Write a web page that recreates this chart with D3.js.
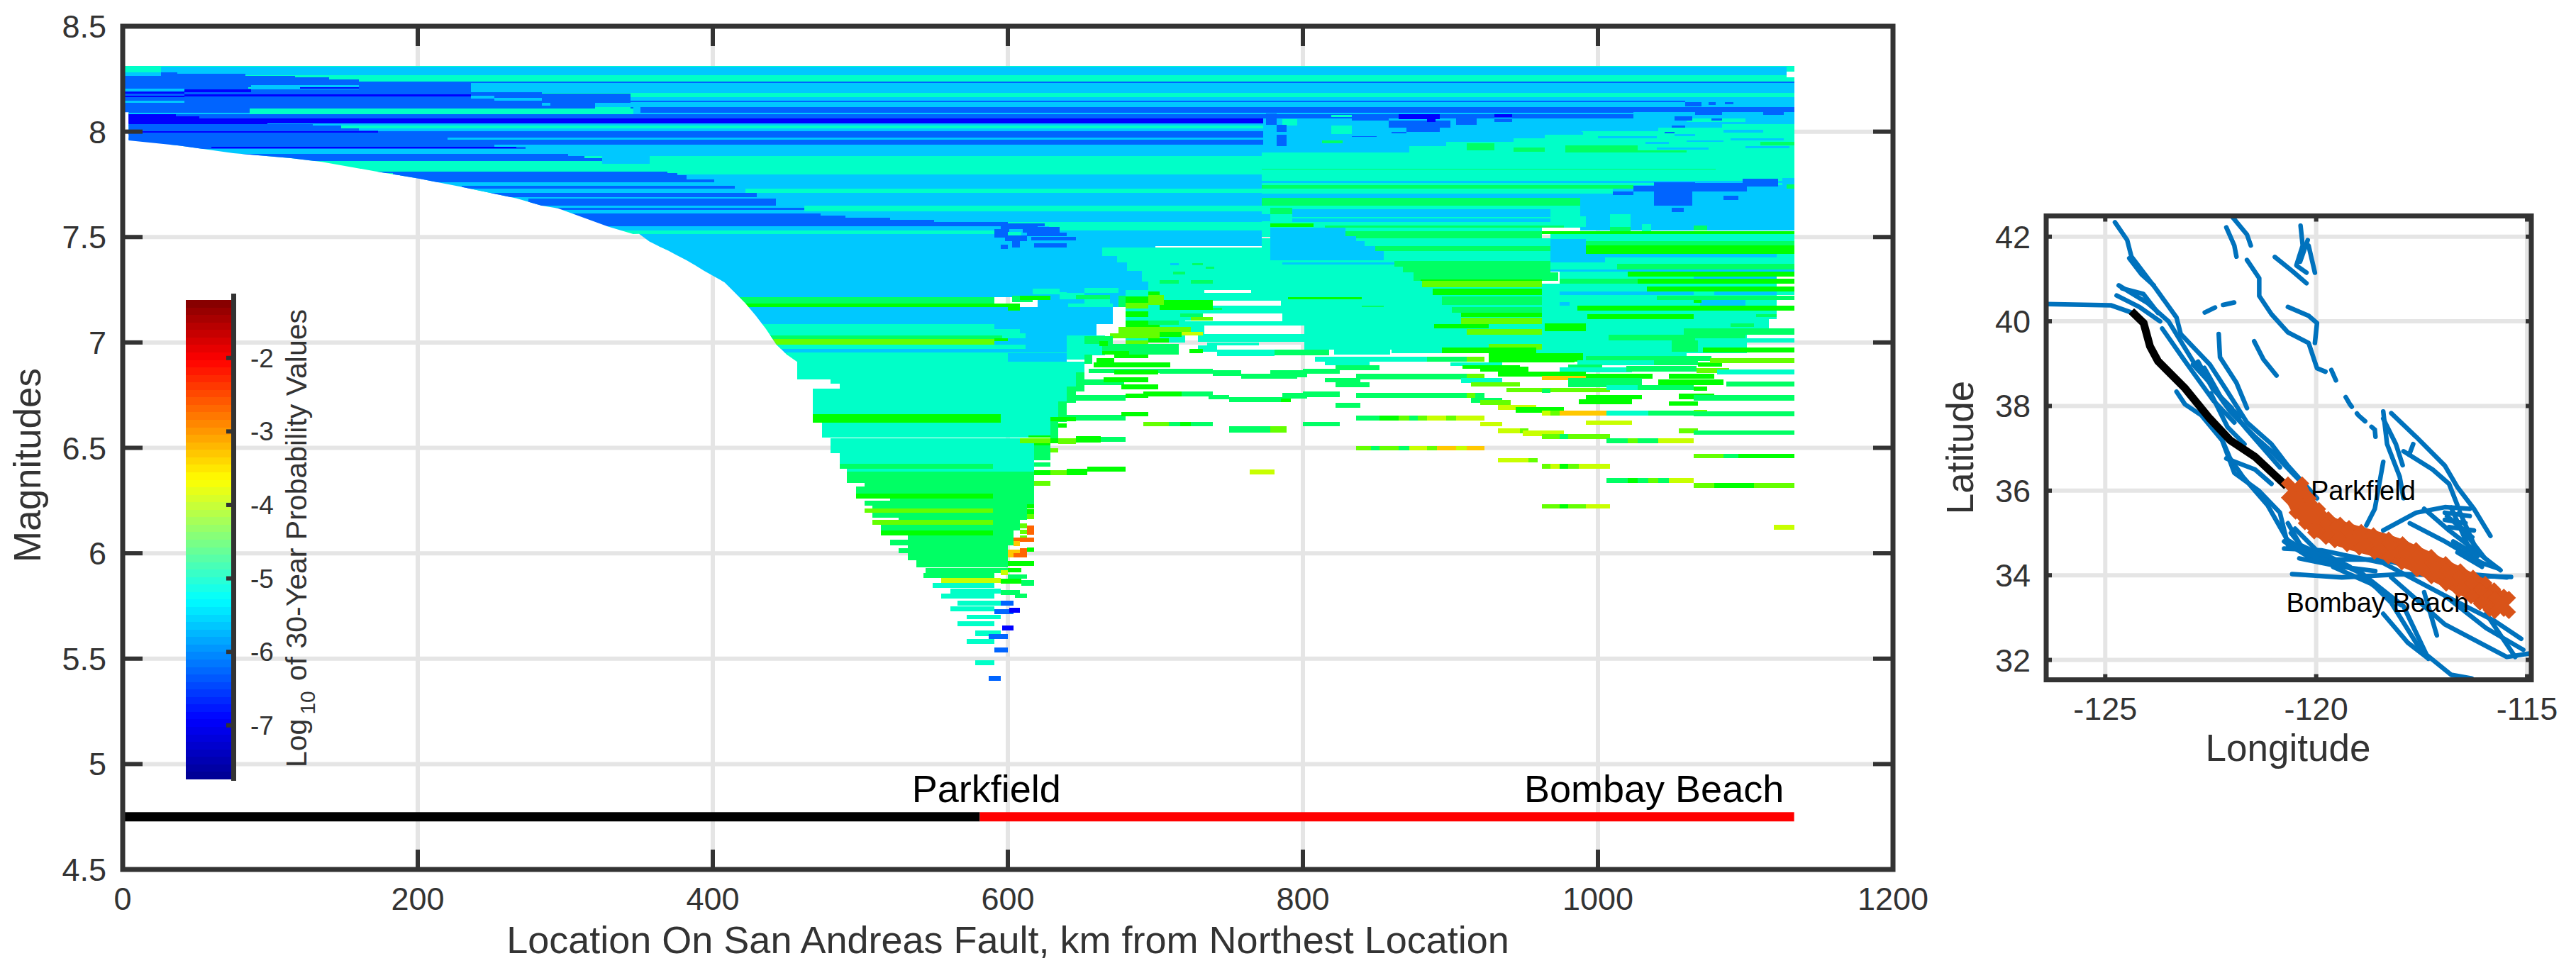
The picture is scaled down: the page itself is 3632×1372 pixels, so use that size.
<!DOCTYPE html>
<html>
<head>
<meta charset="utf-8">
<script src="https://cdn.jsdelivr.net/npm/d3@7"></script>
<style>
	html, body { margin: 0; padding: 0; background: #fff; }
	text { font-family: "Liberation Sans", sans-serif; fill: #333; }
</style>
</head>
<body>
<div id="chart"></div>
<script>
// runs are [mag top, mag bottom, km start, km end, log10 p], painted in order

var xTicks = [0, 200, 400, 600, 800, 1000, 1200],
	yTicks = [4.5, 5, 5.5, 6, 6.5, 7, 7.5, 8, 8.5],
	barTicks = [-7, -6, -5, -4, -3, -2],
	lonTicks = [-125, -120, -115],
	latTicks = [32, 34, 36, 38, 40, 42];

// lower left limit of the filled area
var edgeKm = [4, 37, 75, 114, 135, 171, 200, 229, 248, 267, 284, 295, 329, 346, 350, 357, 363, 369, 375, 382, 388, 394, 408, 415, 422, 429, 436, 443, 450, 457],
	edgeMag = [7.958, 7.935, 7.898, 7.874, 7.857, 7.812, 7.778, 7.739, 7.711, 7.683, 7.649, 7.636, 7.55, 7.514, 7.515, 7.479, 7.458, 7.439, 7.416, 7.391, 7.366, 7.34, 7.285, 7.236, 7.186, 7.128, 7.064, 6.991, 6.943, 6.909];

var topBands = [
	[8.313, 8.307, 0, 1128, -5], [8.307, 8.268, 0, 1128, -5.6], [8.268, 8.237, 0, 1128, -5],
	[8.313, 8.286, 1128, 1133, -5], [8.257, 8.237, 1128, 1133, -5],
	[8.237, 8.232, 0, 1133, -6.3], [8.232, 8.185, 0, 1133, -5.6], [8.185, 8.165, 0, 1133, -5],
	[8.165, 8.148, 0, 1133, -5.6], [8.148, 8.14, 0, 1059, -6.3], [8.148, 8.14, 1059, 1133, -5.6],
	[8.14, 8.115, 0, 1133, -5.6], [8.115, 8.062, 0, 1133, -6.3], [8.09, 8.083, 0, 1133, -5.6],
	[8.062, 8.04, 0, 1133, -7], [8.04, 8.028, 0, 1133, -5.6], [8.028, 8.014, 0, 1133, -5],
	[8.014, 8.002, 0, 1133, -5.6], [8.002, 7.972, 0, 1133, -6.3], [7.972, 7.961, 0, 1133, -5.6],
	[7.961, 7.939, 0, 1133, -6.3], [7.939, 7.885, 0, 1133, -5.6], [7.885, 7.798, 0, 1133, -5],
	[7.798, 7.728, 0, 1133, -5.6], [7.728, 7.711, 0, 1133, -5], [7.711, 7.649, 0, 1133, -5.6]
];

// blue area on the north west end
var westRuns = [
	[8.313, 8.283, 0, 26, -5], [8.283, 8.266, 0, 26, -5.6],
	[8.283, 8.275, 26, 37, -6.3], [8.275, 8.266, 26, 83, -6.3], [8.266, 8.257, 0, 117, -6.3],
	[8.257, 8.249, 0, 140, -6.3], [8.249, 8.238, 0, 160, -6.3], [8.238, 8.148, 0, 236, -6.3],
	[8.187, 8.154, 236, 284, -6.3], [8.182, 8.092, 284, 344, -6.3], [8.154, 8.092, 0, 284, -6.3],
	[8.204, 8.193, 0, 42, -5.6], [8.146, 8.137, 0, 42, -5.6], [8.187, 8.182, 0, 42, -7],
	[8.171, 8.165, 0, 42, -7], [8.202, 8.188, 42, 87, -7], [8.176, 8.168, 42, 236, -7],
	[8.21, 8.205, 85, 115, -5], [8.221, 8.2, 87, 160, -5.6], [8.212, 8.204, 120, 160, -7],
	[8.171, 8.158, 236, 252, -5.6], [8.161, 8.148, 252, 284, -5.6], [8.137, 8.124, 284, 290, -5.6],
	[8.137, 8.115, 320, 344, -5.6], [8.115, 8.1, 320, 344, -5],
	[8.109, 8.083, 86, 346, -5], [8.14, 8.083, 346, 351, -5.6],
	[8.083, 8.062, 4, 114, -6.3], [8.062, 8.035, 4, 98, -7], [8.083, 8.062, 4, 36, -7],
	[8.072, 8.035, 36, 52, -7], [8.035, 8.028, 4, 129, -6.3], [8.028, 8.024, 4, 129, -7],
	[8.028, 8.015, 4, 148, -6.3], [8.015, 8.006, 4, 160, -6.3], [8.006, 7.995, 4, 173, -6.3],
	[8.002, 7.997, 4, 173, -7], [7.995, 7.986, 4, 192, -6.3],
	[7.972, 7.961, 4, 220, -6.3], [7.939, 7.927, 4, 252, -6.3], [7.927, 7.918, 4, 273, -6.3],
	[7.927, 7.921, 60, 267, -7], [7.918, 7.894, 4, 52, -6.3],
	[7.894, 7.883, 52, 302, -6.3], [7.883, 7.874, 52, 313, -6.3], [7.874, 7.862, 52, 325, -6.3],
	[7.885, 7.846, 325, 357, -5.6],
	[7.81, 7.803, 170, 369, -6.3], [7.803, 7.793, 183, 376, -6.3], [7.793, 7.775, 188, 382, -6.3],
	[7.775, 7.761, 196, 401, -6.3], [7.742, 7.728, 230, 415, -6.3], [7.728, 7.711, 230, 422, -5.6],
	[7.711, 7.689, 248, 430, -6.3], [7.681, 7.649, 275, 443, -6.3]
];

// km 284 to 772
var centralRuns = [
	[7.649, 7.638, 284, 462, -5.6], [7.638, 7.627, 284, 462, -6.3], [7.627, 7.612, 284, 462, -5.6],
	[7.649, 7.621, 462, 772, -5], [7.621, 7.573, 462, 772, -5.6], [7.573, 7.55, 462, 772, -5],
	[7.612, 7.55, 284, 473, -6.3], [7.601, 7.55, 473, 490, -6.3], [7.593, 7.55, 490, 520, -6.3],
	[7.583, 7.55, 520, 550, -6.3], [7.573, 7.55, 550, 600, -6.3], [7.565, 7.55, 600, 625, -6.3],
	[7.55, 7.531, 284, 772, -5.6], [7.531, 7.514, 284, 592, -5], [7.514, 7.456, 284, 592, -5.6],
	[7.55, 7.506, 628, 772, -5], [7.531, 7.456, 592, 772, -5.6],
	[7.456, 7.436, 284, 592, -5], [7.456, 7.214, 284, 700, -5.6],
	[7.449, 7.41, 664, 772, -5], [7.41, 7.38, 674, 772, -5], [7.38, 7.34, 681, 772, -5],
	[7.34, 7.29, 691, 772, -5], [7.29, 7.25, 695, 772, -5],
	[7.214, 7.186, 284, 591, -4.5], [7.186, 7.167, 284, 608, -4.2],
	[7.167, 7.088, 284, 671, -5.6], [7.214, 7.167, 620, 680, -5.6],
	[7.088, 7.064, 284, 591, -5], [7.088, 7.032, 591, 660, -5.6], [7.064, 7.032, 284, 608, -5],
	[7.032, 6.95, 284, 640, -5.6], [7.032, 7.016, 284, 596, -4.5], [7.016, 6.991, 284, 591, -3.9],
	[6.991, 6.97, 284, 612, -5], [6.954, 6.94, 284, 640, -5], [7.032, 6.94, 640, 666, -5],
	[7.042, 7.02, 596, 612, -5], [7.02, 7.005, 591, 600, -4.2]
];

// dark patch round km 600, mag 7.5
var patchRuns = [
	[7.56, 7.537, 595, 620, -6.3], [7.548, 7.52, 610, 635, -6.3], [7.52, 7.503, 613, 640, -6.3],
	[7.5, 7.483, 616, 646, -6.3], [7.537, 7.498, 591, 601, -6.3], [7.509, 7.481, 598, 613, -6.3],
	[7.481, 7.449, 603, 608, -6.3], [7.464, 7.442, 595, 600, -6.3], [7.47, 7.449, 618, 640, -6.3],
	[7.525, 7.509, 600, 609, -5],
	[7.378, 7.366, 710, 716, -5.6], [7.378, 7.366, 725, 732, -4.5], [7.335, 7.323, 712, 720, -4.5]
];

// the arch and the blocks from km 600 to 740
var archRuns = [
	[7.254, 7.229, 617, 635, -5], [7.237, 7.206, 635, 640, -5], [7.257, 7.234, 652, 675, -5],
	[7.234, 7.206, 640, 652, -5], [7.225, 7.206, 646, 669, -4.5], [7.206, 7.184, 652, 669, -5],
	[7.184, 7.169, 641, 671, -5], [7.223, 7.19, 603, 617, -4.5], [7.223, 7.2, 608, 629, -4.2],
	[7.173, 7.15, 600, 608, -4.2], [7.222, 7.167, 675, 680, -4.5],
	[7.25, 7.0, 680, 720, -5],
	[7.296, 7.279, 703, 716, -4.5], [7.296, 7.279, 724, 739, -4.5],
	[7.217, 7.189, 680, 703, -4.2], [7.243, 7.217, 695, 703, -4.2], [7.2, 7.156, 703, 739, -4.2],
	[7.189, 7.161, 680, 695, -3.9], [7.225, 7.178, 695, 706, -3.9], [7.147, 7.122, 680, 695, -4.2],
	[7.105, 7.066, 680, 703, -4.2], [7.139, 7.105, 713, 725, -5], [7.139, 7.122, 717, 732, -4.5],
	[7.122, 7.105, 724, 739, -3.9], [7.105, 7.085, 695, 716, -4.5],
	[7.072, 7.044, 675, 724, -3.9], [7.049, 7.032, 718, 732, -3.6], [7.049, 7.027, 703, 718, -4.2],
	[7.044, 7.021, 669, 703, -3.9], [7.01, 6.991, 680, 695, -3.9], [7.019, 6.999, 695, 709, -4.2],
	[6.993, 6.943, 664, 716, -4.5], [6.958, 6.943, 664, 682, -4.2], [6.97, 6.948, 723, 732, -4.2],
	[7.03, 6.993, 652, 671, -4.5], [7.006, 6.984, 662, 668, -4.2]
];

// the sea green area east of km 695, with its gaps
var ridgeRuns = [
	[7.25, 7.236, 695, 733, -5], [7.25, 7.236, 765, 885, -5],
	[7.236, 7.199, 700, 885, -5], [7.199, 7.176, 709, 739, -5], [7.199, 7.176, 785, 885, -5],
	[7.176, 7.139, 709, 885, -5], [7.139, 7.101, 786, 880, -5], [7.101, 7.079, 720, 880, -5],
	[7.079, 7.04, 717, 733, -5], [7.079, 7.04, 801, 873, -5], [7.04, 7.004, 729, 865, -5],
	[7.004, 6.966, 801, 861, -5], [6.966, 6.944, 821, 859, -5],
	[6.985, 6.955, 729, 742, -5], [6.965, 6.935, 742, 781, -5], [6.965, 6.94, 781, 818, -4.5],
	[7.166, 7.156, 735, 745, -4.5], [7.0, 6.985, 735, 770, -5],
	[7.25, 7.0, 850, 975, -5], [7.0, 6.95, 860, 975, -5]
];

// km 772 to 1133, upper part
var eastUpperRuns = [
	[8.062, 7.9, 773, 1133, -5.6], [7.93, 7.9, 872, 1133, -5], [7.952, 7.93, 897, 1133, -5],
	[7.969, 7.952, 943, 1133, -5], [7.986, 7.969, 964, 1133, -5], [8.002, 7.986, 989, 1133, -5],
	[8.019, 8.002, 1041, 1133, -5], [8.036, 8.019, 1084, 1133, -5],
	[8.092, 8.062, 1024, 1133, -5.6], [8.062, 8.045, 1060, 1100, -5],
	[8.081, 8.07, 819, 833, -5], [8.059, 8.028, 786, 796, -5], [8.028, 7.99, 819, 833, -5],
	[8.0, 7.986, 945, 990, -5.6], [7.98, 7.97, 1000, 1040, -5.6], [7.99, 7.98, 1052, 1066, -5.6],
	[8.01, 7.995, 1085, 1112, -5.6], [7.97, 7.958, 1090, 1126, -5.6], [7.95, 7.94, 1032, 1048, -5.6],
	[7.96, 7.95, 1060, 1085, -5.6], [7.93, 7.92, 1100, 1130, -5.6], [7.925, 7.915, 1040, 1075, -5.6],
	[7.946, 7.91, 911, 930, -4.5], [7.924, 7.905, 943, 964, -4.5], [7.935, 7.9, 978, 1027, -4.5],
	[7.91, 7.9, 1027, 1060, -4.5], [7.958, 7.946, 813, 827, -4.5], [7.95, 7.935, 1110, 1133, -4.5],
	[8.087, 8.031, 775, 782, -6.3], [8.031, 8.0, 782, 789, -6.3], [7.985, 7.93, 782, 789, -6.3],
	[8.007, 7.999, 796, 810, -5.6], [7.988, 7.98, 800, 815, -5.6],
	[8.07, 8.053, 833, 858, -6.3], [8.053, 8.019, 858, 900, -6.3], [8.084, 8.059, 865, 893, -7],
	[8.059, 8.045, 884, 890, -7], [8.084, 8.031, 904, 918, -6.3], [8.084, 8.07, 930, 942, -7],
	[8.059, 8.047, 930, 942, -6.3], [8.02, 8.0, 870, 893, -6.3], [7.999, 7.991, 860, 870, -6.3],
	[7.98, 7.974, 833, 850, -6.3],
	[8.073, 8.053, 1052, 1064, -6.3], [8.03, 8.02, 1050, 1059, -6.3], [8.062, 8.053, 1077, 1084, -6.3],
	[7.999, 7.991, 1045, 1052, -6.3], [8.092, 8.081, 1112, 1126, -6.3], [8.092, 8.081, 1066, 1084, -6.3],
	[8.14, 8.12, 1059, 1070, -6.3], [8.14, 8.125, 1075, 1080, -6.3], [8.14, 8.13, 1086, 1092, -6.3],
	[7.9, 7.767, 772, 1133, -5], [7.825, 7.821, 772, 1080, -4.5],
	[7.767, 7.756, 772, 1133, -5.6], [7.756, 7.745, 772, 1133, -5], [7.745, 7.731, 772, 1024, -4.5],
	[7.731, 7.705, 772, 1010, -5], [7.705, 7.685, 772, 1133, -5.6], [7.685, 7.649, 772, 988, -4.5],
	[7.685, 7.53, 988, 1133, -5.6], [7.731, 7.705, 1010, 1133, -5.6], [7.745, 7.731, 1024, 1133, -5.6],
	[7.717, 7.7, 1010, 1024, -6.3], [7.742, 7.717, 1024, 1038, -6.3], [7.761, 7.728, 1038, 1066, -6.3],
	[7.728, 7.649, 1038, 1064, -6.3], [7.756, 7.717, 1064, 1101, -6.3], [7.778, 7.739, 1098, 1122, -6.3],
	[7.695, 7.675, 1085, 1095, -6.3], [7.64, 7.627, 1050, 1058, -6.3],
	[7.78, 7.745, 1125, 1133, -5.6], [7.75, 7.73, 1128, 1133, -4.5]
];

// km 772 to 968, mag 7.65 to 6.95
var eastMiddleRuns = [
	[7.649, 7.544, 772, 988, -5], [7.494, 7.25, 772, 900, -5], [7.64, 7.61, 778, 793, -4.5], [7.565, 7.547, 778, 807, -4.2],
	[7.632, 7.595, 793, 968, -5.6], [7.595, 7.587, 793, 968, -5], [7.587, 7.573, 793, 968, -5.6],
	[7.573, 7.554, 807, 968, -5], [7.554, 7.543, 815, 977, -4.5], [7.543, 7.528, 815, 962, -5],
	[7.61, 7.575, 772, 778, -5.6], [7.544, 7.5, 772, 778, -5],
	[7.528, 7.494, 829, 962, -4.5], [7.494, 7.481, 829, 968, -5], [7.481, 7.456, 836, 968, -5],
	[7.456, 7.434, 842, 968, -4.5], [7.434, 7.41, 849, 968, -5], [7.41, 7.386, 855, 968, -5],
	[7.386, 7.36, 862, 968, -4.5], [7.36, 7.333, 868, 968, -4.5], [7.333, 7.293, 875, 973, -4.5],
	[7.3, 7.293, 880, 962, -4.2], [7.293, 7.262, 881, 962, -3.9], [7.262, 7.254, 885, 962, -5],
	[7.254, 7.225, 888, 962, -4.2], [7.225, 7.217, 892, 962, -5], [7.217, 7.178, 894, 962, -4.5],
	[7.178, 7.169, 897, 962, -5], [7.169, 7.142, 901, 962, -4.5], [7.142, 7.122, 907, 962, -4.2],
	[7.117, 7.088, 907, 963, -3.9], [7.088, 7.066, 889, 926, -4.2], [7.088, 7.064, 926, 990, -5],
	[7.064, 7.038, 911, 962, -3.9], [7.038, 7.012, 895, 960, -5],
	[6.993, 6.965, 926, 979, -3.9], [6.976, 6.948, 894, 958, -4.2],
	[7.544, 7.503, 778, 829, -5.6], [7.503, 7.481, 778, 836, -5.6], [7.481, 7.456, 778, 842, -5.6],
	[7.456, 7.434, 778, 849, -5.6], [7.434, 7.39, 778, 855, -5.6],
	[7.38, 7.37, 786, 862, -5.6], [7.39, 7.38, 786, 860, -5],
	[7.36, 7.35, 734, 740, -4.5], [7.215, 7.205, 790, 840, -4.2], [7.176, 7.168, 840, 855, -4.5]
];

// km 968 to 1133, mag 7.53 to 6.95
var eastEndRuns = [
	[7.25, 7.109, 962, 1121, -5], [7.109, 7.066, 962, 1116, -5], [7.066, 6.95, 962, 1101, -5],
	[7.61, 7.548, 1008, 1022, -5], [7.6, 7.548, 977, 992, -5], [7.548, 7.528, 1008, 1022, -4.5],
	[7.56, 7.528, 1030, 1036, -5], [7.553, 7.532, 1065, 1074, -4.5], [7.633, 7.62, 1050, 1058, -6.3],
	[7.528, 7.514, 962, 1133, -4.2], [7.514, 7.481, 968, 1133, -5], [7.481, 7.461, 980, 1133, -4.5],
	[7.461, 7.419, 992, 1133, -4.2], [7.49, 7.38, 968, 992, -5.6], [7.42, 7.38, 992, 1005, -5.6],
	[7.419, 7.402, 993, 1121, -5.6], [7.419, 7.402, 1121, 1133, -5],
	[7.402, 7.374, 1005, 1133, -5], [7.374, 7.346, 1013, 1133, -4.5], [7.38, 7.346, 968, 1013, -5],
	[7.346, 7.335, 968, 1133, -5.6], [7.335, 7.312, 974, 1020, -5], [7.335, 7.312, 1020, 1133, -4.2],
	[7.312, 7.304, 974, 1065, -5], [7.312, 7.304, 1065, 1121, -5.6], [7.304, 7.279, 974, 1027, -4.5],
	[7.304, 7.279, 1027, 1133, -4.2], [7.279, 7.265, 962, 1065, -5], [7.279, 7.265, 1065, 1121, -5],
	[7.265, 7.243, 962, 1033, -5], [7.265, 7.243, 1033, 1133, -4.2],
	[7.243, 7.225, 974, 1065, -5.6], [7.243, 7.225, 1079, 1121, -5.6], [7.243, 7.225, 1065, 1079, -5],
	[7.243, 7.225, 1121, 1133, -5],
	[7.225, 7.2, 974, 1040, -5], [7.223, 7.2, 1040, 1133, -4.5],
	[7.2, 7.176, 974, 1069, -5], [7.2, 7.176, 1069, 1100, -5.6], [7.2, 7.176, 1100, 1121, -5],
	[7.193, 7.176, 974, 981, -5.6], [7.2, 7.188, 1065, 1070, -4.2],
	[7.176, 7.152, 986, 1133, -4.2], [7.152, 7.133, 962, 1106, -5],
	[7.133, 7.109, 962, 993, -5], [7.133, 7.109, 993, 1065, -4.2], [7.133, 7.109, 1065, 1107, -5],
	[7.135, 7.12, 1107, 1121, -4.5], [7.12, 7.109, 1107, 1116, -5],
	[7.109, 7.083, 962, 1116, -5], [7.083, 7.066, 975, 1106, -5], [7.09, 7.072, 1090, 1106, -4.5],
	[7.066, 7.038, 978, 1058, -5], [7.066, 7.038, 1058, 1133, -4.5], [7.09, 7.052, 964, 992, -4.2],
	[7.038, 7.01, 962, 1007, -5], [7.038, 7.01, 1007, 1084, -4.5], [7.038, 7.01, 1084, 1101, -5],
	[7.05, 7.012, 1084, 1100, -4.5], [7.021, 6.999, 1066, 1133, -5],
	[7.01, 6.976, 986, 1050, -5], [7.01, 6.976, 1050, 1068, -4.5], [7.0, 6.976, 1068, 1096, -5],
	[6.976, 6.954, 974, 1071, -5], [6.976, 6.954, 1071, 1133, -4.2], [6.99, 6.955, 1050, 1068, -4.5]
];

// wedge that narrows down to Parkfield
var wedgeRuns = [
	[6.95, 6.909, 450, 640, -5], [6.95, 6.905, 600, 640, -5.6], [6.95, 6.92, 640, 652, -5],
	[6.909, 6.823, 457, 652, -5], [6.823, 6.806, 480, 646, -5], [6.806, 6.78, 486, 646, -5],
	[6.78, 6.66, 468, 640, -5], [6.66, 6.621, 468, 595, -4.2], [6.66, 6.621, 595, 634, -5],
	[6.621, 6.548, 474, 634, -5], [6.545, 6.474, 480, 618, -5], [6.474, 6.425, 486, 618, -5],
	[6.425, 6.402, 486, 590, -4.5], [6.425, 6.402, 590, 618, -5], [6.402, 6.388, 491, 618, -5],
	[6.388, 6.332, 491, 618, -4.5], [6.332, 6.315, 503, 618, -4.5], [6.315, 6.282, 497, 618, -4.5],
	[6.282, 6.259, 497, 590, -4.2], [6.282, 6.259, 590, 618, -4.5], [6.259, 6.248, 520, 618, -4.5],
	[6.248, 6.226, 503, 618, -4.5], [6.226, 6.214, 508, 618, -4.5],
	[6.214, 6.192, 503, 590, -3.9], [6.214, 6.192, 590, 613, -4.5], [6.192, 6.17, 508, 613, -4.5],
	[6.17, 6.158, 526, 613, -4.5], [6.158, 6.136, 508, 590, -3.9], [6.158, 6.136, 590, 608, -4.5],
	[6.136, 6.108, 514, 608, -4.5], [6.108, 6.083, 514, 590, -4.2], [6.108, 6.083, 590, 604, -4.5],
	[6.083, 6.063, 532, 604, -4.5], [6.063, 6.038, 520, 604, -4.5], [6.038, 6.024, 532, 600, -4.5],
	[6.024, 6.001, 526, 600, -4.5], [6.001, 5.968, 532, 600, -4.5], [5.968, 5.934, 538, 600, -4.5],
	[5.93, 5.906, 544, 600, -4.5], [5.906, 5.883, 543, 591, -4.5], [5.92, 5.896, 595, 600, -3.6],
	[5.93, 5.91, 600, 609, -4.2], [5.9, 5.88, 600, 613, -4.5], [5.88, 5.855, 595, 609, -4.2],
	[5.883, 5.858, 555, 595, -3.6], [5.871, 5.846, 609, 618, -4.5], [5.858, 5.837, 549, 591, -5],
	[5.832, 5.81, 561, 595, -5], [5.824, 5.803, 595, 608, -4.5], [5.809, 5.784, 555, 591, -5],
	[5.809, 5.787, 605, 613, -4.5], [5.775, 5.752, 566, 595, -5], [5.775, 5.753, 595, 604, -6.3],
	[5.747, 5.726, 561, 591, -5], [5.733, 5.712, 591, 604, -6.3], [5.74, 5.718, 601, 608, -7],
	[5.709, 5.687, 572, 595, -5], [5.678, 5.655, 566, 591, -5], [5.656, 5.633, 596, 604, -7],
	[5.633, 5.608, 578, 595, -5], [5.616, 5.594, 587, 600, -6.3], [5.594, 5.571, 572, 591, -5],
	[5.553, 5.531, 591, 600, -6.3], [5.491, 5.468, 578, 591, -5], [5.418, 5.395, 587, 595, -6.3],
	[6.859, 6.769, 646, 652, -4.5], [6.792, 6.713, 640, 646, -4.5], [6.719, 6.623, 634, 640, -4.5],
	[6.629, 6.545, 629, 634, -4.5], [6.512, 6.44, 618, 629, -4.5], [6.43, 6.41, 618, 629, -4.5],
	[6.545, 6.523, 608, 629, -3.9], [6.56, 6.548, 614, 629, -4.2], [6.523, 6.512, 618, 629, -4.2],
	[6.231, 6.214, 613, 618, -4.2], [6.208, 6.186, 613, 618, -4.2], [6.186, 6.162, 613, 618, -3.9],
	[6.141, 6.119, 608, 613, -3.9], [6.13, 6.089, 613, 618, -2.5], [6.112, 6.09, 608, 613, -3.9],
	[6.085, 6.065, 608, 613, -3.9], [6.076, 6.054, 604, 618, -2.5], [6.057, 6.035, 604, 608, -3],
	[6.029, 6.007, 613, 618, -4.2], [6.024, 5.979, 608, 613, -2.5], [6.018, 5.981, 600, 608, -3],
	[5.999, 5.979, 604, 613, -2.5], [5.962, 5.94, 600, 618, -4.2]
];

// separate strips south of mag 6.95
var tailRuns = [
	[6.95, 6.893, 986, 1060, -5], [6.95, 6.91, 926, 990, -4.2],
	[6.943, 6.9, 652, 657, -4.5], [6.904, 6.881, 658, 710, -4.2], [6.925, 6.905, 660, 672, -4.2],
	[6.943, 6.925, 672, 695, -4.2],
	[6.876, 6.856, 655, 703, -4.5], [6.876, 6.853, 703, 739, -4.5], [6.87, 6.848, 672, 702, -4.2],
	[6.868, 6.842, 739, 758, -4.5], [6.853, 6.829, 758, 796, -4.5], [6.867, 6.836, 778, 803, -4.5],
	[6.876, 6.853, 800, 825, -4.5], [6.893, 6.87, 822, 852, -4.5],
	[6.932, 6.909, 808, 884, -5], [6.932, 6.909, 884, 911, -4.5], [6.932, 6.909, 911, 923, -3.9],
	[6.909, 6.891, 815, 845, -5],
	[6.825, 6.797, 652, 679, -4.5], [6.834, 6.811, 665, 695, -4.2], [6.8, 6.778, 677, 702, -4.2],
	[6.752, 6.724, 646, 680, -4.5], [6.758, 6.738, 680, 695, -4.2], [6.766, 6.743, 692, 718, -4.2],
	[6.766, 6.743, 718, 739, -4.5], [6.752, 6.73, 736, 750, -4.5], [6.741, 6.717, 750, 788, -4.5],
	[6.734, 6.717, 785, 792, -4.2], [6.76, 6.735, 786, 803, -4.5], [6.766, 6.741, 800, 825, -4.5],
	[6.657, 6.629, 640, 680, -4.5], [6.671, 6.649, 677, 695, -4.2], [6.647, 6.625, 629, 646, -4.2],
	[6.617, 6.596, 634, 640, -4.2], [6.623, 6.601, 692, 709, -3.9], [6.623, 6.601, 709, 717, -4.5],
	[6.623, 6.601, 717, 724, -4.2], [6.623, 6.601, 724, 739, -4.5],
	[6.601, 6.573, 750, 778, -4.5], [6.601, 6.573, 778, 789, -3.9],
	[6.545, 6.523, 629, 634, -4.2], [6.545, 6.52, 634, 646, -3.9], [6.555, 6.525, 646, 663, -4.2],
	[6.553, 6.528, 663, 680, -4.5], [6.5, 6.478, 629, 634, -3.9],
	[6.394, 6.371, 618, 629, -4.2], [6.394, 6.371, 629, 640, -3.9], [6.4, 6.371, 640, 654, -4.2],
	[6.41, 6.388, 654, 680, -4.2], [6.343, 6.321, 618, 629, -3.9],
	[6.833, 6.811, 815, 839, -4.5], [6.811, 6.788, 822, 845, -4.5], [6.713, 6.691, 822, 839, -4.5],
	[6.623, 6.601, 800, 825, -4.5],
	[6.851, 6.826, 836, 911, -4.5], [6.851, 6.826, 911, 923, -3.9],
	[6.761, 6.738, 836, 911, -4.5], [6.761, 6.738, 911, 917, -3.9], [6.761, 6.738, 917, 923, -4.5],
	[6.738, 6.715, 914, 935, -4.5], [6.727, 6.705, 920, 941, -3.9], [6.704, 6.68, 932, 958, -3.6],
	[6.693, 6.668, 944, 977, -4.2],
	[6.904, 6.889, 900, 935, -5], [6.893, 6.876, 908, 947, -4.2], [6.885, 6.862, 920, 953, -4.2],
	[6.932, 6.904, 926, 984, -4.2], [6.934, 6.912, 992, 1077, -4.5], [6.915, 6.893, 986, 1038, -5],
	[6.915, 6.893, 1038, 1068, -4.5], [6.904, 6.885, 1068, 1084, -4.2], [6.896, 6.878, 980, 1003, -4.5],
	[6.881, 6.859, 974, 1023, -5], [6.889, 6.862, 1019, 1067, -4.5], [6.878, 6.856, 1067, 1089, -3.9],
	[6.861, 6.839, 932, 992, -4.2], [6.842, 6.82, 962, 992, -3], [6.85, 6.827, 992, 1037, -4.2],
	[6.831, 6.808, 907, 935, -5], [6.811, 6.79, 914, 947, -3.9], [6.831, 6.788, 980, 1030, -4.5],
	[6.784, 6.764, 938, 1008, -3.9], [6.78, 6.76, 962, 968, -4.5], [6.752, 6.73, 992, 1030, -4.2],
	[6.73, 6.708, 987, 1023, -4.2], [6.797, 6.773, 1006, 1027, -5], [6.797, 6.773, 1027, 1065, -4.5],
	[6.792, 6.77, 1065, 1074, -4.2], [6.853, 6.829, 1048, 1079, -4.2], [6.825, 6.797, 1041, 1085, -4.2],
	[6.756, 6.732, 1055, 1079, -4.2], [6.722, 6.7, 1048, 1068, -4.2], [6.816, 6.792, 1087, 1133, -4.5],
	[6.75, 6.724, 1065, 1133, -4.5], [6.873, 6.848, 1081, 1133, -5], [6.926, 6.903, 1076, 1133, -3.9],
	[6.676, 6.654, 962, 968, -3.6], [6.676, 6.654, 968, 974, -3.9], [6.676, 6.654, 974, 1008, -3],
	[6.676, 6.654, 1006, 1034, -5], [6.676, 6.654, 1034, 1065, -4.5], [6.679, 6.657, 1065, 1074, -3.9],
	[6.674, 6.649, 1065, 1133, -4.5], [6.652, 6.628, 836, 852, -4.5], [6.652, 6.628, 852, 865, -4.2],
	[6.652, 6.628, 865, 872, -3.9], [6.652, 6.628, 872, 878, -4.5], [6.652, 6.628, 878, 884, -3.9],
	[6.652, 6.628, 884, 897, -3.6], [6.652, 6.628, 897, 904, -3.9], [6.652, 6.628, 904, 923, -3.6],
	[6.623, 6.601, 920, 935, -3.6], [6.631, 6.608, 992, 1023, -3.6],
	[6.592, 6.57, 932, 947, -3.6], [6.592, 6.57, 947, 953, -3.9], [6.581, 6.556, 949, 977, -3.6],
	[6.567, 6.543, 962, 974, -3.9], [6.567, 6.543, 974, 980, -4.5], [6.567, 6.543, 980, 1008, -3.9],
	[6.545, 6.523, 1006, 1020, -4.5], [6.545, 6.523, 1020, 1027, -3.9], [6.545, 6.523, 1027, 1041, -4.5],
	[6.545, 6.523, 1041, 1065, -3.6], [6.592, 6.57, 1055, 1068, -3.9], [6.584, 6.562, 1065, 1133, -4.5],
	[6.508, 6.487, 836, 846, -3.9], [6.508, 6.487, 846, 852, -4.5], [6.508, 6.487, 852, 865, -3.9],
	[6.508, 6.487, 865, 872, -4.5], [6.508, 6.487, 872, 884, -3.6], [6.508, 6.487, 884, 891, -3.9],
	[6.508, 6.487, 891, 904, -3], [6.508, 6.487, 904, 911, -3.6], [6.508, 6.487, 911, 923, -3],
	[6.472, 6.45, 1065, 1085, -3.9], [6.472, 6.45, 1085, 1095, -4.5], [6.472, 6.45, 1095, 1133, -4.2],
	[6.452, 6.43, 932, 953, -3.6], [6.452, 6.43, 953, 959, -3.9],
	[6.424, 6.402, 962, 968, -3.9], [6.424, 6.402, 968, 974, -3.6], [6.424, 6.402, 974, 980, -4.2],
	[6.424, 6.402, 980, 987, -3.9], [6.424, 6.402, 987, 1008, -3.6],
	[6.397, 6.375, 764, 781, -3.6],
	[6.357, 6.334, 1006, 1020, -4.5], [6.357, 6.334, 1020, 1027, -4.2], [6.357, 6.334, 1027, 1034, -4.5],
	[6.357, 6.334, 1034, 1041, -3.9], [6.357, 6.334, 1041, 1048, -4.5], [6.357, 6.334, 1048, 1065, -3.6],
	[6.332, 6.31, 1065, 1079, -3.9], [6.332, 6.31, 1079, 1106, -4.2], [6.332, 6.31, 1106, 1133, -3.9],
	[6.233, 6.211, 962, 974, -3.9], [6.233, 6.211, 974, 980, -4.2], [6.233, 6.211, 980, 992, -3.9],
	[6.233, 6.211, 992, 1008, -3.6], [6.136, 6.113, 1119, 1133, -3.6]
];

var heatRuns = [topBands, westRuns, eastUpperRuns, centralRuns, patchRuns, ridgeRuns, archRuns, eastMiddleRuns, eastEndRuns, wedgeRuns, tailRuns];

var parkfieldKm = 581, traceEndKm = 1133, traceMag = 4.75;

// fault traces as [lon, lat]
var faultTraces = [
	[[-126.44, 40.41], [-124.87, 40.38], [-124.38, 40.21]],
	[[-124.77, 42.34], [-124.48, 41.92], [-124.38, 41.53], [-124.09, 41.15], [-123.8, 40.77], [-123.31, 40.09], [-123.21, 39.7], [-122.52, 38.98], [-122.13, 38.38], [-121.64, 37.61], [-121.06, 37.1], [-120.67, 36.59], [-120.13, 35.99]],
	[[-124.68, 40.85], [-123.99, 40.43], [-123.5, 40], [-122.92, 39.06], [-122.33, 38.29], [-121.64, 37.44], [-120.86, 36.55]],
	[[-124.73, 40.61], [-124.19, 40.34], [-123.7, 40]],
	[[-123.65, 39.83], [-123.11, 39.06], [-122.43, 38.12], [-121.94, 37.61]],
	[[-124.43, 41.49], [-124.14, 41.11], [-123.85, 40.85]],
	[[-124.6, 40.78], [-124.1, 40.65], [-123.75, 40.2]],
	[[-122.31, 39.7], [-122.28, 39.15], [-121.89, 38.55], [-121.64, 37.95]],
	[[-122.92, 38.98], [-122.52, 38.55], [-122.04, 37.87], [-121.45, 37.27], [-121.06, 36.93], [-120.57, 36.42], [-119.98, 35.82]],
	[[-123.31, 38.34], [-123.11, 38.04], [-122.72, 37.78], [-122.23, 37.19], [-121.94, 36.42], [-121.35, 35.99], [-120.86, 35.48], [-120.67, 34.71]],
	[[-122.33, 37.44], [-122.04, 36.76], [-121.74, 36.33], [-121.15, 35.65], [-120.76, 34.97], [-120.57, 34.63]],
	[[-122.13, 36.76], [-121.45, 36.5], [-121.06, 36.16]],
	[[-122.5, 38.3], [-122.1, 37.5], [-121.7, 37.1]],
	[[-122.65, 38.9], [-122.2, 38.1], [-121.8, 37.75]],
	[[-122.8, 39.05], [-122.45, 38.4], [-122.0, 37.95]],
	[[-122.13, 42.22], [-121.94, 41.79], [-121.89, 41.53]],
	[[-121.99, 42.47], [-121.64, 42.05], [-121.55, 41.79]],
	[[-121.64, 41.45], [-121.35, 41.02], [-121.35, 40.6], [-121.06, 40.17], [-120.67, 39.74], [-120.18, 39.49], [-119.98, 38.89], [-119.78, 38.81]],
	[[-120.98, 41.52], [-120.57, 41.19], [-120.23, 40.9]],
	[[-120.37, 42.26], [-120.32, 41.79], [-120.47, 41.32], [-120.23, 41.15]],
	[[-120.2, 41.92], [-120.38, 41.41]],
	[[-120.18, 41.79], [-120.03, 41.15]],
	[[-120.67, 40.34], [-120.18, 40.13], [-119.98, 39.96], [-120.03, 39.49]],
	[[-121.47, 39.53], [-121.25, 39.1], [-120.94, 38.72]],
	[[-118.41, 37.87], [-118.32, 37.1], [-118.02, 36.33], [-117.93, 35.82]],
	[[-118.22, 37.83], [-117.63, 37.27], [-116.95, 36.59], [-116.65, 36.08], [-116.26, 35.57], [-115.87, 34.93]],
	[[-118.41, 37.7], [-118.11, 37.1], [-117.95, 36.6]],
	[[-118.41, 36.68], [-118.61, 35.57], [-118.81, 35.18]],
	[[-117.93, 36.93], [-117.24, 36.5], [-116.85, 36.16], [-116.65, 35.65]],
	[[-118.41, 35.06], [-117.63, 35.48], [-116.95, 35.61], [-116.36, 35.57]],
	[[-117.78, 35.23], [-116.95, 34.8], [-116.07, 34.29], [-115.68, 34.16]],
	[[-117.44, 35.57], [-116.85, 35.06], [-116.07, 34.46], [-115.63, 34.12]],
	[[-116.95, 35.48], [-116.36, 35.4]],
	[[-116.95, 35.31], [-116.46, 35.23]],
	[[-116.85, 35.14], [-116.26, 35.06]],
	[[-116.75, 34.8], [-116.17, 34.46]],
	[[-116.65, 34.54], [-116.07, 34.2]],
	[[-116.9, 35.4], [-116.3, 34.9]],
	[[-116.8, 35.6], [-116.4, 34.7]],
	[[-116.6, 35.5], [-116.2, 34.6]],
	[[-116.7, 35.3], [-116.0, 34.4]],
	[[-120.76, 34.8], [-120.08, 34.37], [-118.41, 34.37], [-117.44, 34.12], [-115.48, 33.95]],
	[[-120.57, 34.03], [-119.39, 33.95], [-117.93, 34.03], [-115.38, 33.96]],
	[[-120.76, 34.63], [-119.88, 34.59], [-118.41, 34.29], [-116.95, 33.52], [-115.77, 32.92], [-115.14, 32.5]],
	[[-120.67, 35.23], [-120.37, 34.71], [-118.9, 34.03], [-117.93, 33.27], [-117.34, 32.03]],
	[[-120.5, 35.1], [-120.0, 34.6], [-119.2, 34.2]],
	[[-120.6, 35.0], [-120.2, 34.5], [-119.5, 34.25]],
	[[-120.7, 34.85], [-120.3, 34.6], [-119.7, 34.45]],
	[[-120.4, 34.4], [-119.4, 34.2], [-118.6, 34.1]],
	[[-119.6, 34.2], [-118.7, 33.8], [-118.0, 33.3]],
	[[-118.9, 34.03], [-118.22, 33.35], [-117.53, 32.24], [-116.8, 31.65], [-116.31, 31.56]],
	[[-118.41, 33.09], [-117.83, 32.41], [-117.34, 32.03]],
	[[-118.22, 33.95], [-116.95, 32.84], [-115.48, 32.07], [-114.89, 32.16]],
	[[-117.44, 33.6], [-117.14, 32.58]],
	[[-115.97, 33.09], [-115.28, 32.07]],
	[[-116.95, 33.52], [-115.97, 32.75], [-115.09, 32.24]],
	[[-117.93, 34.8], [-116.46, 33.86]]
];
var dottedTraces = [
	[[-122.64, 40.21], [-122.33, 40.36], [-121.84, 40.47]],
	[[-119.64, 38.85], [-119.49, 38.51]],
	[[-119.3, 38.21], [-119.2, 38.04], [-119, 37.78], [-118.61, 37.44], [-118.59, 37.23]],
	[[-117.7, 37.1], [-117.85, 36.7]]
];
var northTrace = [[-124.38, 40.24], [-124.09, 39.96], [-123.94, 39.41], [-123.75, 39.06], [-123.11, 38.42], [-122.52, 37.7], [-122.04, 37.19], [-121.45, 36.8], [-120.7, 36.1]];
var southTrace = [[-120.5, 36.0], [-120.32, 35.65], [-120.1, 35.4], [-119.88, 35.18], [-119.6, 35.05], [-119.39, 34.97], [-119.1, 34.88], [-118.81, 34.8], [-118.45, 34.7], [-118.12, 34.59], [-117.8, 34.45], [-117.44, 34.29], [-117.1, 34.12], [-116.75, 33.95], [-116.45, 33.8], [-116.16, 33.65], [-115.95, 33.5], [-115.72, 33.35], [-115.6, 33.3]];

var svg = d3.select("#chart").append("svg")
	.attr("width", 3632)
	.attr("height", 1372)
	.style("display", "block");

var dark = "#333",
	gridColor = "#e5e5e5";

var x = d3.scaleLinear().domain([0, 1200]).range([173, 2669]),
	y = d3.scaleLinear().domain([4.5, 8.5]).range([1226, 37]);

var level = d3.scaleThreshold()
	.domain([-6.6, -5.9, -5.3, -4.7, -4.35, -4.05, -3.75, -3.3, -2.75])
	.range(["#0000ff", "#0064ff", "#00c8ff", "#00ffc8", "#00ff64", "#00ff00", "#64ff00", "#c8ff00", "#ffc800", "#ff6400"]);

function grid(g, xs, ys, xt, yt) {
	var r = xs.range(), b = ys.range();
	g.selectAll("line.gx").data(xt).enter().append("line")
		.attr("x1", xs).attr("x2", xs).attr("y1", b[0]).attr("y2", b[1])
		.attr("stroke", gridColor).attr("stroke-width", 6);
	g.selectAll("line.gy").data(yt).enter().append("line")
		.attr("y1", ys).attr("y2", ys).attr("x1", r[0]).attr("x2", r[1])
		.attr("stroke", gridColor).attr("stroke-width", 6);
}

function frame(g, xs, ys, xt, yt, tickLen) {
	var r = xs.range(), b = ys.range();
	xt.forEach(function(t) {
		g.append("line").attr("x1", xs(t)).attr("x2", xs(t)).attr("y1", b[0]).attr("y2", b[0] - tickLen).attr("stroke", dark).attr("stroke-width", 6);
		g.append("line").attr("x1", xs(t)).attr("x2", xs(t)).attr("y1", b[1]).attr("y2", b[1] + tickLen).attr("stroke", dark).attr("stroke-width", 6);
	});
	yt.forEach(function(t) {
		g.append("line").attr("y1", ys(t)).attr("y2", ys(t)).attr("x1", r[0]).attr("x2", r[0] + tickLen).attr("stroke", dark).attr("stroke-width", 6);
		g.append("line").attr("y1", ys(t)).attr("y2", ys(t)).attr("x1", r[1]).attr("x2", r[1] - tickLen).attr("stroke", dark).attr("stroke-width", 6);
	});
	g.append("rect")
		.attr("x", r[0]).attr("y", b[1])
		.attr("width", r[1] - r[0]).attr("height", b[0] - b[1])
		.attr("fill", "none").attr("stroke", dark).attr("stroke-width", 7);
}

// left panel
var left = svg.append("g");
grid(left, x, y, xTicks, yTicks);

// filled area is cut along the lower left limit
var clipPts = [[0, 8.32], [1140, 8.32], [1140, 5], [440, 5], [440, 6.909]];
for (var i = edgeKm.length - 1; i >= 0; i--) {
	clipPts.push([edgeKm[i], edgeMag[i]]);
}
clipPts.push([4, 8.092], [0, 8.092]);
left.append("clipPath").attr("id", "heatClip").append("path")
	.attr("d", d3.line()
		.x(function(d) { return x(d[0]); })
		.y(function(d) { return y(d[1]); })
		.curve(d3.curveLinearClosed)(clipPts));

var heat = left.append("g").attr("shape-rendering", "crispEdges").attr("clip-path", "url(#heatClip)");
heat.selectAll("g").data(heatRuns).enter().append("g")
	.selectAll("rect")
	.data(function(d) { return d; })
	.enter().append("rect")
	.attr("x", function(d) { return x(d[2]); })
	.attr("y", function(d) { return y(d[0]); })
	.attr("width", function(d) { return x(d[3]) - x(d[2]); })
	.attr("height", function(d) { return y(d[1]) - y(d[0]); })
	.attr("fill", function(d) { return level(d[4]); });

left.append("line")
	.attr("x1", x(0)).attr("x2", x(parkfieldKm))
	.attr("y1", y(traceMag)).attr("y2", y(traceMag))
	.attr("stroke", "#000").attr("stroke-width", 13);
left.append("line")
	.attr("x1", x(parkfieldKm)).attr("x2", x(traceEndKm))
	.attr("y1", y(traceMag)).attr("y2", y(traceMag))
	.attr("stroke", "#f00").attr("stroke-width", 13);
left.append("text").text("Parkfield")
	.attr("x", x(535)).attr("y", y(4.82))
	.attr("font-size", 54).style("fill", "#000");
left.append("text").text("Bombay Beach")
	.attr("x", x(950)).attr("y", y(4.82))
	.attr("font-size", 54).style("fill", "#000");

frame(left, x, y, xTicks, yTicks, 28);

left.selectAll("text.xt").data(xTicks).enter().append("text")
	.attr("x", x).attr("y", 1283)
	.attr("text-anchor", "middle").attr("font-size", 45)
	.text(function(d) { return d; });
left.selectAll("text.yt").data(yTicks).enter().append("text")
	.attr("x", 150).attr("y", function(d) { return y(d) + 16; })
	.attr("text-anchor", "end").attr("font-size", 45)
	.text(function(d) { return d; });
left.append("text")
	.attr("x", 1421).attr("y", 1344)
	.attr("text-anchor", "middle").attr("font-size", 54)
	.text("Location On San Andreas Fault, km from Northest Location");
left.append("text")
	.attr("transform", "translate(57,656) rotate(-90)")
	.attr("text-anchor", "middle").attr("font-size", 53)
	.text("Magnitudes");

// colour bar inside the left panel
var barY = d3.scaleLinear().domain([-7.73, -1.207]).range([1098.4, 422.6]),
	jet = d3.scaleLinear()
		.domain([0, 1 / 8, 3 / 8, 5 / 8, 7 / 8, 1])
		.range(["#00008f", "#0000ff", "#00ffff", "#ffff00", "#ff0000", "#800000"]),
	barLevels = d3.range(64);

var bar = svg.append("g");
bar.append("g").attr("shape-rendering", "crispEdges")
	.selectAll("rect").data(barLevels).enter().append("rect")
	.attr("x", 262).attr("width", 66)
	.attr("y", function(d) { return barY(-7.73 + (d + 1) * 6.523 / 64); })
	.attr("height", function(d) { return barY(-7.73 + d * 6.523 / 64) - barY(-7.73 + (d + 1) * 6.523 / 64) + 0.5; })
	.attr("fill", function(d) { return jet((d + 0.5) / 64); });
bar.append("line").attr("x1", 329.5).attr("x2", 329.5).attr("y1", 414).attr("y2", 1101)
	.attr("stroke", dark).attr("stroke-width", 7);
bar.selectAll("line.t").data(barTicks).enter().append("line")
	.attr("x1", 319).attr("x2", 330)
	.attr("y1", barY).attr("y2", barY)
	.attr("stroke", dark).attr("stroke-width", 6);
bar.selectAll("text.t").data(barTicks).enter().append("text")
	.attr("x", 353).attr("y", function(d) { return barY(d) + 13; })
	.attr("font-size", 37)
	.text(function(d) { return d; });
var barTitle = bar.append("text")
	.attr("transform", "translate(432,1082) rotate(-90)")
	.attr("font-size", 41);
barTitle.append("tspan").text("Log");
barTitle.append("tspan").attr("dy", 12).attr("dx", 6).attr("font-size", 30).text("10");
barTitle.append("tspan").attr("dy", -12).attr("dx", 14).text("of 30-Year Probability Values");

// map on the right
var lon = d3.scaleLinear().domain([-126.4, -114.9]).range([2885, 3569]),
	lat = d3.scaleLinear().domain([31.53, 42.49]).range([958.6, 304.5]);
var lonLat = d3.line()
	.x(function(d) { return lon(d[0]); })
	.y(function(d) { return lat(d[1]); });

var map = svg.append("g");
grid(map, lon, lat, lonTicks, latTicks);
map.append("clipPath").attr("id", "mapClip").append("rect")
	.attr("x", 2885).attr("y", 304.5).attr("width", 684).attr("height", 654.1);
var inner = map.append("g").attr("clip-path", "url(#mapClip)");

inner.selectAll("path.f").data(faultTraces).enter().append("path")
	.attr("class", "f")
	.attr("d", lonLat)
	.attr("fill", "none").attr("stroke", "#0072bd").attr("stroke-width", 6.5)
	.attr("stroke-linecap", "round").attr("stroke-linejoin", "round");
inner.selectAll("path.d").data(dottedTraces).enter().append("path")
	.attr("class", "d")
	.attr("d", lonLat)
	.attr("fill", "none").attr("stroke", "#0072bd").attr("stroke-width", 6.5)
	.attr("stroke-dasharray", "16 12").attr("stroke-linecap", "round");

inner.append("text").text("Parkfield")
	.attr("x", lon(-120.13)).attr("y", lat(35.78))
	.attr("font-size", 38).style("fill", "#000");
inner.append("text").text("Bombay Beach")
	.attr("x", lon(-120.71)).attr("y", lat(33.14))
	.attr("font-size", 38).style("fill", "#000");

inner.append("path").datum(northTrace)
	.attr("d", lonLat)
	.attr("fill", "none").attr("stroke", "#000").attr("stroke-width", 11);
inner.append("path").datum(southTrace)
	.attr("d", lonLat)
	.attr("fill", "none").attr("stroke", "#d95319").attr("stroke-width", 36)
	.attr("stroke-linejoin", "round");
inner.selectAll("path.x").data(southTrace).enter().append("path")
	.attr("class", "x")
	.attr("transform", function(d) { return "translate(" + lon(d[0]) + "," + lat(d[1]) + ") rotate(45)"; })
	.attr("d", d3.symbol().type(d3.symbolCross).size(1000))
	.attr("fill", "#d95319");

frame(map, lon, lat, lonTicks, latTicks, 8);

map.selectAll("text.xt").data(lonTicks).enter().append("text")
	.attr("x", lon).attr("y", 1015)
	.attr("text-anchor", "middle").attr("font-size", 45)
	.text(function(d) { return d; });
map.selectAll("text.yt").data(latTicks).enter().append("text")
	.attr("x", 2863).attr("y", function(d) { return lat(d) + 16; })
	.attr("text-anchor", "end").attr("font-size", 45)
	.text(function(d) { return d; });
map.append("text")
	.attr("x", 3226).attr("y", 1073)
	.attr("text-anchor", "middle").attr("font-size", 53)
	.text("Longitude");
map.append("text")
	.attr("transform", "translate(2782,631) rotate(-90)")
	.attr("text-anchor", "middle").attr("font-size", 53)
	.text("Latitude");
</script>
</body>
</html>
